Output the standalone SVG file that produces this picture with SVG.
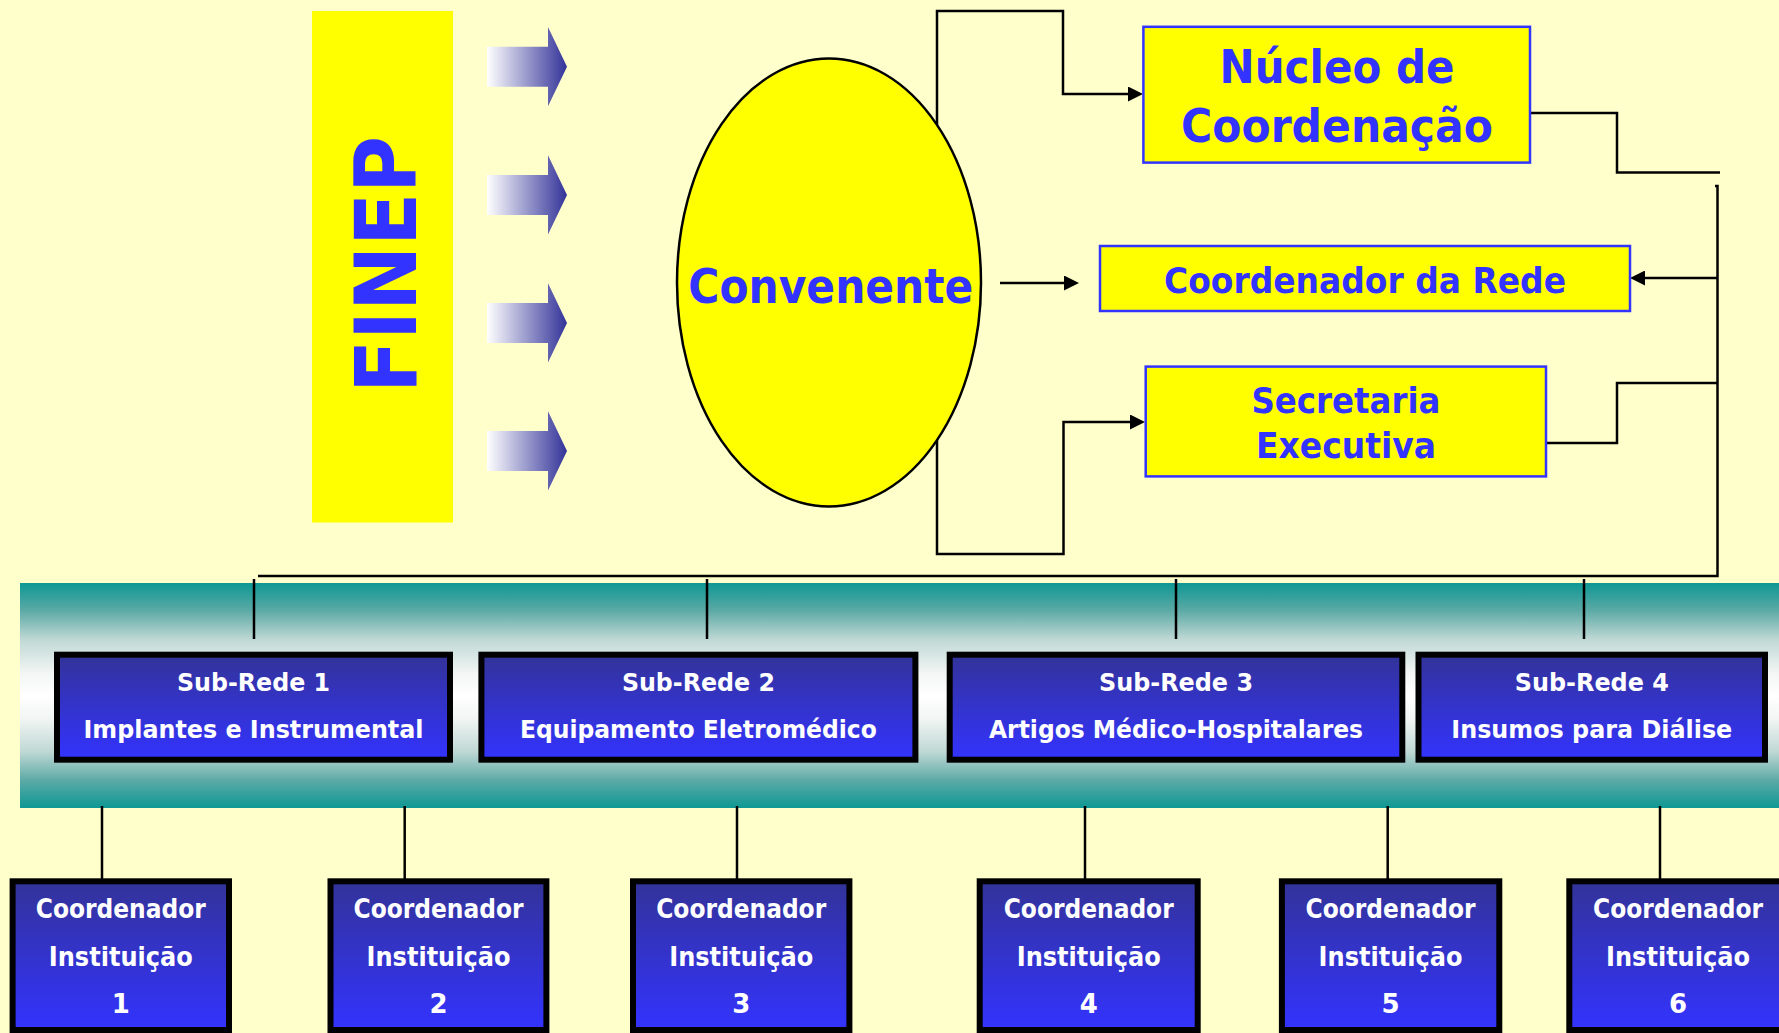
<svg xmlns="http://www.w3.org/2000/svg" width="1779" height="1033" viewBox="0 0 1779 1033">
<defs>
<linearGradient id="arr" x1="0" y1="0" x2="1" y2="0">
<stop offset="0" stop-color="#FFFFFF"/>
<stop offset="1" stop-color="#333399"/>
</linearGradient>
<linearGradient id="band" x1="0" y1="0" x2="0" y2="1">
<stop offset="0" stop-color="#0E9894"/>
<stop offset="0.12" stop-color="#5AA9A5"/>
<stop offset="0.25" stop-color="#BFD8D4"/>
<stop offset="0.4" stop-color="#F2F6F4"/>
<stop offset="0.5" stop-color="#FFFFFF"/>
<stop offset="0.6" stop-color="#F2F6F4"/>
<stop offset="0.75" stop-color="#BFD8D4"/>
<stop offset="0.88" stop-color="#5AA9A5"/>
<stop offset="1" stop-color="#0E9894"/>
</linearGradient>
<linearGradient id="box" x1="0" y1="0" x2="0" y2="1">
<stop offset="0" stop-color="#333399"/>
<stop offset="1" stop-color="#3333FF"/>
</linearGradient>
<marker id="ah" markerUnits="userSpaceOnUse" markerWidth="15" markerHeight="15" refX="5" refY="7.5" orient="auto">
<path d="M0,0 L15,7.5 L0,15 Z" fill="#000"/>
</marker>
<path id="farrow" d="M487,-20 H548 V-40 L567,0 L548,40 V20 H487 Z"/>
</defs>
<style>
.ln{fill:none;stroke:#000;stroke-width:2.5}
.yb{fill:#FFFF00;stroke:#3333FF;stroke-width:2.5}
.bt{font-family:"DejaVu Sans",Verdana,sans-serif;font-weight:bold;fill:#3333FF;text-anchor:middle}
.wt{font-family:"DejaVu Sans",Verdana,sans-serif;font-weight:bold;fill:#FFFFFF;text-anchor:middle}
.sb{fill:url(#box);stroke:#000;stroke-width:6}
.s25{font-size:25px}
.s26{font-size:26px}
.ar{fill:url(#arr)}
</style>
<rect width="1779" height="1033" fill="#FFFFCC"/>

<g id="band-bg">
<rect x="20" y="583" width="1759" height="225" fill="url(#band)"/>
</g>

<g id="finep">
<rect x="312" y="11" width="141" height="511.5" fill="#FFFF00"/>
<text class="bt" font-size="85" textLength="257" lengthAdjust="spacingAndGlyphs" transform="translate(416,264.5) rotate(-90)">FINEP</text>
</g>

<g id="finep-arrows">
<path class="ar" d="M487,46.7 H548 V27 L567,66.7 L548,106.3 V86.7 H487 Z"/>
<path class="ar" d="M487,175 H548 V155.3 L567,195 L548,234.6 V215 H487 Z"/>
<path class="ar" d="M487,303 H548 V283.3 L567,323 L548,362.6 V343 H487 Z"/>
<path class="ar" d="M487,431 H548 V411.3 L567,451 L548,490.6 V471 H487 Z"/>
</g>

<g id="connectors">
<path class="ln" d="M937,200 V11 H1063 V94 H1133" marker-end="url(#ah)"/>
<path class="ln" d="M937,380 V554 H1063.5 V422 H1135" marker-end="url(#ah)"/>
<path class="ln" d="M1000,283 H1069" marker-end="url(#ah)"/>
<path class="ln" d="M1530,113 H1617 V172.5 H1720"/>
<path class="ln" d="M1715,186 H1717.5 V576 H258"/>
<path class="ln" d="M1717.5,278 H1640" marker-end="url(#ah)"/>
<path class="ln" d="M1546,443 H1617 V383 H1718"/>
<path class="ln" d="M254,579 V639 M707,579 V639 M1176,579 V639 M1584,579 V639"/>
<path class="ln" d="M102,806 V879 M404.7,806 V879 M737,806 V879 M1085,806 V879 M1387.7,806 V879 M1660,806 V879"/>
</g>

<g id="convenente">
<ellipse cx="829" cy="282.5" rx="152" ry="224" fill="#FFFF00" stroke="#000" stroke-width="2.5"/>
<text class="bt" x="830.8" y="303" font-size="48" textLength="285" lengthAdjust="spacingAndGlyphs">Convenente</text>
</g>

<g id="nucleo">
<rect class="yb" x="1143.4" y="26.8" width="386.6" height="135.8"/>
<text class="bt" x="1337" y="83.4" font-size="46" textLength="235" lengthAdjust="spacingAndGlyphs">Núcleo de</text>
<text class="bt" x="1337" y="141.6" font-size="46" textLength="312" lengthAdjust="spacingAndGlyphs">Coordenação</text>
</g>

<g id="coord-rede">
<rect class="yb" x="1100" y="246" width="530" height="65"/>
<text class="bt" x="1365" y="292.8" font-size="36" textLength="402" lengthAdjust="spacingAndGlyphs">Coordenador da Rede</text>
</g>

<g id="secretaria">
<rect class="yb" x="1145.7" y="366.6" width="400.3" height="109.8"/>
<text class="bt" x="1346" y="413" font-size="36" textLength="189" lengthAdjust="spacingAndGlyphs">Secretaria</text>
<text class="bt" x="1346" y="458" font-size="36" textLength="180" lengthAdjust="spacingAndGlyphs">Executiva</text>
</g>

<g id="subrede1">
<rect class="sb" x="57" y="654.7" width="393" height="105"/>
<text class="wt s25" x="253.5" y="691" textLength="153" lengthAdjust="spacingAndGlyphs">Sub-Rede 1</text>
<text class="wt s25" x="253.5" y="738.3" textLength="340" lengthAdjust="spacingAndGlyphs">Implantes e Instrumental</text>
</g>
<g id="subrede2">
<rect class="sb" x="481.4" y="654.7" width="434" height="105"/>
<text class="wt s25" x="698.4" y="691" textLength="153" lengthAdjust="spacingAndGlyphs">Sub-Rede 2</text>
<text class="wt s25" x="698.4" y="738.3" textLength="357" lengthAdjust="spacingAndGlyphs">Equipamento Eletromédico</text>
</g>
<g id="subrede3">
<rect class="sb" x="949.7" y="654.7" width="452.6" height="105"/>
<text class="wt s25" x="1176" y="691" textLength="154" lengthAdjust="spacingAndGlyphs">Sub-Rede 3</text>
<text class="wt s25" x="1176" y="738.3" textLength="374" lengthAdjust="spacingAndGlyphs">Artigos Médico-Hospitalares</text>
</g>
<g id="subrede4">
<rect class="sb" x="1418.5" y="654.7" width="346.5" height="105"/>
<text class="wt s25" x="1591.8" y="691" textLength="154" lengthAdjust="spacingAndGlyphs">Sub-Rede 4</text>
<text class="wt s25" x="1591.8" y="738.3" textLength="281" lengthAdjust="spacingAndGlyphs">Insumos para Diálise</text>
</g>

<g id="coord1">
<rect class="sb" x="12.6" y="881.3" width="216.4" height="148.7"/>
<text class="wt s26" x="120.8" y="918" textLength="170" lengthAdjust="spacingAndGlyphs">Coordenador</text>
<text class="wt s26" x="120.8" y="966" textLength="144" lengthAdjust="spacingAndGlyphs">Instituição</text>
<text class="wt s26" x="120.8" y="1013">1</text>
</g>
<g id="coord2">
<rect class="sb" x="330.5" y="881.3" width="215.9" height="148.7"/>
<text class="wt s26" x="438.5" y="918" textLength="170" lengthAdjust="spacingAndGlyphs">Coordenador</text>
<text class="wt s26" x="438.5" y="966" textLength="144" lengthAdjust="spacingAndGlyphs">Instituição</text>
<text class="wt s26" x="438.5" y="1013">2</text>
</g>
<g id="coord3">
<rect class="sb" x="633" y="881.3" width="216.4" height="148.7"/>
<text class="wt s26" x="741.2" y="918" textLength="170" lengthAdjust="spacingAndGlyphs">Coordenador</text>
<text class="wt s26" x="741.2" y="966" textLength="144" lengthAdjust="spacingAndGlyphs">Instituição</text>
<text class="wt s26" x="741.2" y="1013">3</text>
</g>
<g id="coord4">
<rect class="sb" x="979.7" y="881.3" width="218" height="148.7"/>
<text class="wt s26" x="1088.7" y="918" textLength="170" lengthAdjust="spacingAndGlyphs">Coordenador</text>
<text class="wt s26" x="1088.7" y="966" textLength="144" lengthAdjust="spacingAndGlyphs">Instituição</text>
<text class="wt s26" x="1088.7" y="1013">4</text>
</g>
<g id="coord5">
<rect class="sb" x="1281.9" y="881.3" width="217.4" height="148.7"/>
<text class="wt s26" x="1390.6" y="918" textLength="170" lengthAdjust="spacingAndGlyphs">Coordenador</text>
<text class="wt s26" x="1390.6" y="966" textLength="144" lengthAdjust="spacingAndGlyphs">Instituição</text>
<text class="wt s26" x="1390.6" y="1013">5</text>
</g>
<g id="coord6">
<rect class="sb" x="1569.3" y="881.3" width="217.4" height="148.7"/>
<text class="wt s26" x="1678" y="918" textLength="170" lengthAdjust="spacingAndGlyphs">Coordenador</text>
<text class="wt s26" x="1678" y="966" textLength="144" lengthAdjust="spacingAndGlyphs">Instituição</text>
<text class="wt s26" x="1678" y="1013">6</text>
</g>
</svg>
